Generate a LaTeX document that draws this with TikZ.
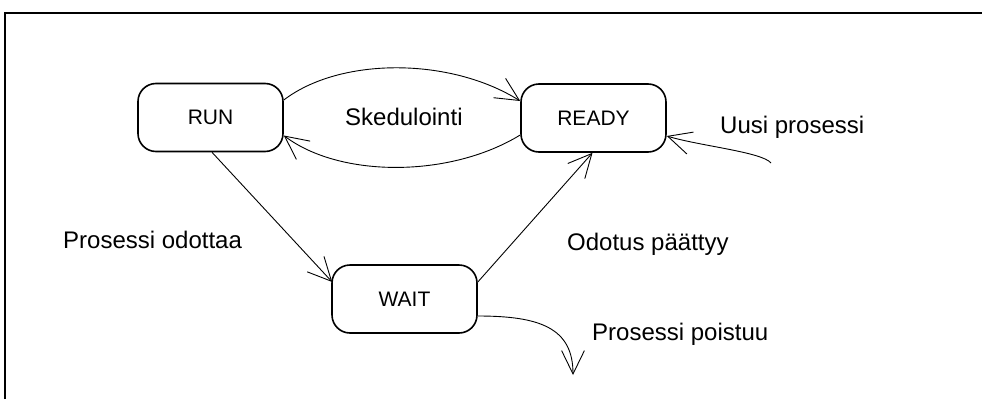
\documentclass[tikz,border=0pt]{standalone}
\usepackage{fontspec}
\setmainfont{Liberation Sans}
\usetikzlibrary{arrows.meta}
\begin{document}
\begin{tikzpicture}[x=1pt,y=-1pt,
  state/.style={draw,line width=1.6pt,rounded corners=18pt,minimum width=145pt,minimum height=68pt,inner sep=0pt,font=\fontsize{21}{25}\selectfont},
  lbl/.style={anchor=base west,inner sep=0pt,font=\fontsize{24}{28}\selectfont},
  conn/.style={line width=0.9pt,-{Straight Barb[angle=52:26pt,line width=0.9pt]}}]
\useasboundingbox (0,0) rectangle (982,399);
\draw[line width=2.2pt] (5,399) -- (5,13) -- (982,13);
\node[state] (run) at (210.5,117.5) {RUN};
\node[state] (ready) at (593.5,118) {READY};
\node[state] (wait) at (404.5,299) {WAIT};
\node[lbl] (sked) at (345,125) {Skedulointi};
\node[lbl] (uusi) at (720,133) {Uusi prosessi};
\node[lbl] (odottaa) at (63,248) {Prosessi odottaa};
\node[lbl] (paattyy) at (567,250) {Odotus päättyy};
\node[lbl] (poistuu) at (592,340) {Prosessi poistuu};
\coordinate (newsrc) at (771,163);
\coordinate (exitpt) at (573,375);
\draw[conn] ([yshift=17.5pt]run.east) .. controls (340,57) and (450,57) .. ([yshift=17pt]ready.west);
\draw[conn] ([yshift=-17pt]ready.west) .. controls (450,178) and (340,178) .. ([yshift=-18pt]run.east);
\draw[conn] ([xshift=1.5pt]run.south) -- ([yshift=17pt,xshift=1pt]wait.west);
\draw[conn] ([yshift=17pt]wait.east) -- ([xshift=-1pt]ready.south);
\draw[conn] (newsrc) .. controls (762,152) and (700,146) .. ([yshift=-18pt]ready.east);
\draw[conn] ([yshift=-17pt]wait.east) .. controls (540,316) and (573,328) .. (exitpt);
\end{tikzpicture}
\end{document}
